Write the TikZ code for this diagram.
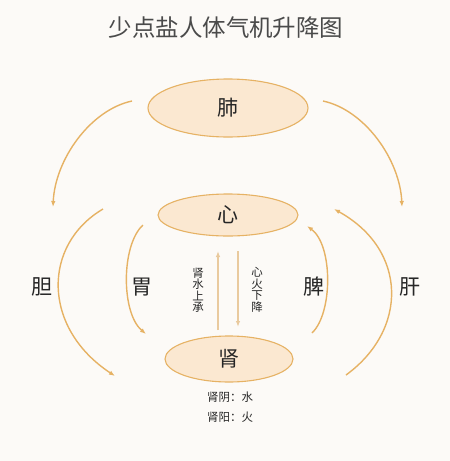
\documentclass[tikz,border=0pt]{standalone}
\usepackage{fontspec}
\newfontfamily\cjk{Noto Sans CJK SC}
\usetikzlibrary{arrows.meta,shapes.geometric}
\definecolor{paper}{HTML}{FCFAF7}
\definecolor{gold}{HTML}{E6B264}
\definecolor{palegold}{HTML}{E9CA9E}
\definecolor{peach}{HTML}{FBE8D1}
\definecolor{ink}{HTML}{262626}
\definecolor{titlegray}{HTML}{4A4A4A}

\begin{document}
\begin{tikzpicture}[x=1pt,y=-1pt,
  organ/.style={ellipse,draw=gold,line width=1.1pt,fill=peach,inner sep=0pt,
    text=ink,font=\cjk\fontsize{21}{21}\selectfont},
  flow/.style={gold,line width=1.4pt,-{Latex[length=6pt,width=4.5pt]}},
  rise/.style={palegold,line width=1.3pt,-{Latex[length=6pt,width=4.5pt]}},
  side/.style={text=ink,font=\cjk\fontsize{21}{21}\selectfont},
  vtext/.style={text=ink,align=center,inner sep=0pt,font=\cjk\fontsize{11.5}{11.5}\selectfont},
  note/.style={text=ink,font=\cjk\fontsize{11.5}{11.5}\selectfont}]
  \useasboundingbox[fill=paper] (0,0) rectangle (450,461);
  %
  \node (title) at (226,28) [text=titlegray,font=\cjk\fontsize{23.5}{23.5}\selectfont] {少点盐人体气机升降图};
  % organs
  \node (lung) at (228,108) [organ,minimum width=160pt,minimum height=58pt] {肺};
  \node (heart) at (228,215) [organ,minimum width=140pt,minimum height=42pt] {心};
  \node (kidney) at (229,359) [organ,minimum width=128pt,minimum height=46pt] {肾};
  \node (dan) at (42,287) [side] {胆};
  \node (wei) at (142,287) [side] {胃};
  \node (pi) at (314,287) [side] {脾};
  \node (gan) at (410,287) [side] {肝};
  %
  \coordinate (tl0) at (132,101);
  \coordinate (tl1) at (53,207);
  \coordinate (tr0) at (323,101);
  \coordinate (tr1) at (402,207);
  \coordinate (ol0) at (103,209);
  \coordinate (ol1) at (115,376);
  \coordinate (or0) at (346,375);
  \coordinate (or1) at (334,209);
  \coordinate (il0) at (143,225);
  \coordinate (il1) at (146,334);
  \coordinate (ir0) at (312,333);
  \coordinate (ir1) at (307,226);
  % lung descends
  \draw[flow] (tl0) .. controls (90,110) and (55,160) .. (tl1);
  \draw[flow] (tr0) .. controls (365,110) and (400,160) .. (tr1);
  % outer circle
  \draw[flow] (ol0) .. controls (42,245) and (42,328) .. (ol1);
  \draw[flow] (or0) .. controls (408,330) and (408,250) .. (or1);
  % inner circle
  \draw[flow] (il0) .. controls (121,245) and (121,313) .. (il1);
  \draw[flow] (ir0) .. controls (333,313) and (333,245) .. (ir1);
  % water and fire
  \coordinate (up0) at (218,330);
  \coordinate (up1) at (218,251);
  \coordinate (dn0) at (238,251);
  \coordinate (dn1) at (238,327);
  \draw[rise] (up0) -- (up1);
  \draw[rise] (dn0) -- (dn1);
  \node (shuishang) at (198,290) [vtext] {肾\\水\\上\\承};
  \node (huoxia) at (257,290) [vtext] {心\\火\\下\\降};
  % yin and yang
  \node (yin) at (230,397) [note] {肾阴：水};
  \node (yang) at (230,417) [note] {肾阳：火};
\end{tikzpicture}
\end{document}
